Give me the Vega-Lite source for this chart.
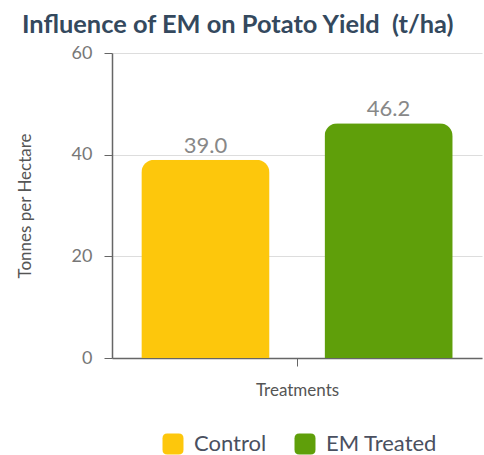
{
  "$schema": "https://vega.github.io/schema/vega-lite/v6.json",
  "width": 370,
  "height": 305,
  "autosize": {"type": "none"},
  "padding": {"left": 112, "top": 53, "right": 2, "bottom": 97},
  "background": "white",
  "title": {
    "text": "Influence of EM on Potato Yield \u00a0(t/ha)",
    "anchor": "start",
    "frame": "group",
    "dx": -90,
    "offset": 6,
    "font": "Lato",
    "fontSize": 25.4,
    "fontWeight": "bold",
    "color": "#34495e"
  },
  "data": {
    "values": [
      {"group": "Treatments", "treatment": "Control", "yield": 39.0},
      {"group": "Treatments", "treatment": "EM Treated", "yield": 46.2}
    ]
  },
  "encoding": {
    "x": {
      "field": "group",
      "type": "nominal",
      "title": "Treatments",
      "scale": {"paddingInner": 0, "paddingOuter": 0},
      "axis": {
        "labels": false,
        "domainColor": "#666666",
        "domainWidth": 1.5,
        "tickColor": "#666666",
        "tickSize": 8,
        "titleFont": "Lato",
        "titleFontSize": 17,
        "titleFontWeight": "normal",
        "titleColor": "#555555",
        "titlePadding": 16
      }
    },
    "xOffset": {
      "field": "treatment",
      "type": "nominal",
      "sort": ["Control", "EM Treated"],
      "scale": {"paddingInner": 0.3, "paddingOuter": 0.16}
    },
    "y": {
      "field": "yield",
      "type": "quantitative",
      "title": "Tonnes per Hectare",
      "scale": {"domain": [0, 60]},
      "axis": {
        "values": [0, 20, 40, 60],
        "domainColor": "#666666",
        "domainWidth": 1.5,
        "tickColor": "#666666",
        "tickSize": 8,
        "gridColor": "#dddddd",
        "labelFont": "Lato",
        "labelFontSize": 18,
        "labelColor": "#777777",
        "labelPadding": 12,
        "titleFont": "Lato",
        "titleFontSize": 17,
        "titleFontWeight": "normal",
        "titleColor": "#555555",
        "titlePadding": 37
      }
    }
  },
  "layer": [
    {
      "mark": {"type": "bar", "cornerRadiusTopLeft": 13, "cornerRadiusTopRight": 13},
      "encoding": {
        "color": {
          "field": "treatment",
          "type": "nominal",
          "sort": ["Control", "EM Treated"],
          "scale": {"domain": ["Control", "EM Treated"], "range": ["#fdc70c", "#5f9f0a"]},
          "legend": {
            "title": null,
            "orient": "none",
            "direction": "horizontal",
            "legendX": 50,
            "legendY": 380,
            "symbolType": "M-1,-0.55Q-1,-1,-0.55,-1L0.55,-1Q1,-1,1,-0.55L1,0.55Q1,1,0.55,1L-0.55,1Q-1,1,-1,0.55Z",
            "symbolSize": 440,
            "symbolStrokeWidth": 0,
            "labelFont": "Lato",
            "labelFontSize": 22,
            "labelColor": "#4a5060",
            "labelOffset": 10,
            "columnPadding": 27
          }
        }
      }
    },
    {
      "mark": {"type": "text", "baseline": "alphabetic", "dy": -7, "font": "Lato", "fontSize": 22, "color": "#888888"},
      "encoding": {
        "text": {"field": "yield", "type": "quantitative", "format": ".1f"}
      }
    }
  ],
  "config": {"view": {"stroke": null}}
}
